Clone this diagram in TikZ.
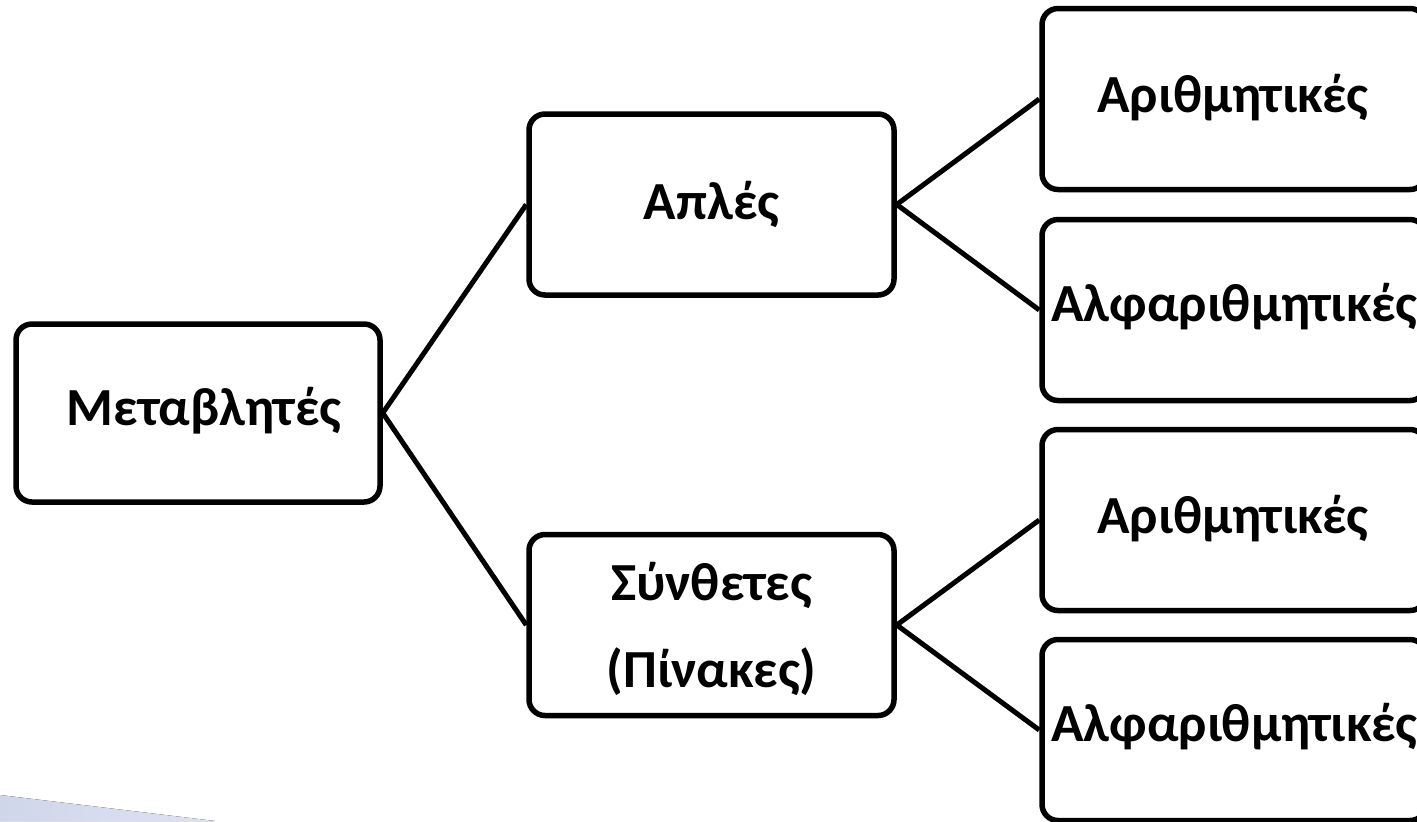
\documentclass[tikz,border=0pt]{standalone}
\usepackage{fontspec}
\setmainfont{Carlito}
\definecolor{accentblue}{RGB}{208,214,234}
\definecolor{accentlight}{RGB}{222,227,242}
\begin{document}
\begin{tikzpicture}[x=0.5pt,y=-0.5pt,
  box/.style={draw=black, line width=2.75pt, rounded corners=8pt, fill=white,
    inner sep=0pt, minimum height=90.5pt},
  midbox/.style={box, minimum width=182.5pt},
  leafbox/.style={box, minimum width=192pt},
  lbl/.style={inner sep=0pt, anchor=base, font=\fontsize{26.8}{43.5}\selectfont\bfseries},
  link/.style={draw=black, line width=2.5pt}
]
\useasboundingbox (0,0) rectangle (1417,821);

% pale accent wedge in the lower left corner
\fill[left color=accentblue, right color=accentlight] (0,795) -- (215,821) -- (0,821) -- cycle;

% boxes
\node[box, minimum width=182pt, minimum height=89pt] (root) at (198,413) {};
\node[midbox] (simple) at (711.5,204.5) {};
\node[midbox] (compound) at (711.5,625) {};
\node[leafbox] (s1) at (1234,99) {};
\node[leafbox] (s2) at (1234,310) {};
\node[leafbox] (c1) at (1234,520) {};
\node[leafbox] (c2) at (1234,730) {};

% connectors
\draw[link] (root.east) -- (simple.west);
\draw[link] (root.east) -- (compound.west);
\draw[link] (simple.east) -- (s1.west);
\draw[link] (simple.east) -- (s2.west);
\draw[link] (compound.east) -- (c1.west);
\draw[link] (compound.east) -- (c2.west);

% labels (the two-line label is anchored on its last baseline)
\node[lbl] (troot) at (204,425) {Μεταβλητές};
\node[lbl] (tsimple) at (711.5,219) {Απλές};
\node[lbl, align=center] (tcompound) at (711.5,687) {Σύνθετες\\(Πίνακες)};
\node[lbl] (ts1) at (1233,112) {Αριθμητικές};
\node[lbl] (ts2) at (1234.5,321) {Αλφαριθμητικές};
\node[lbl] (tc1) at (1233,533) {Αριθμητικές};
\node[lbl] (tc2) at (1234.5,741) {Αλφαριθμητικές};
\end{tikzpicture}
\end{document}
